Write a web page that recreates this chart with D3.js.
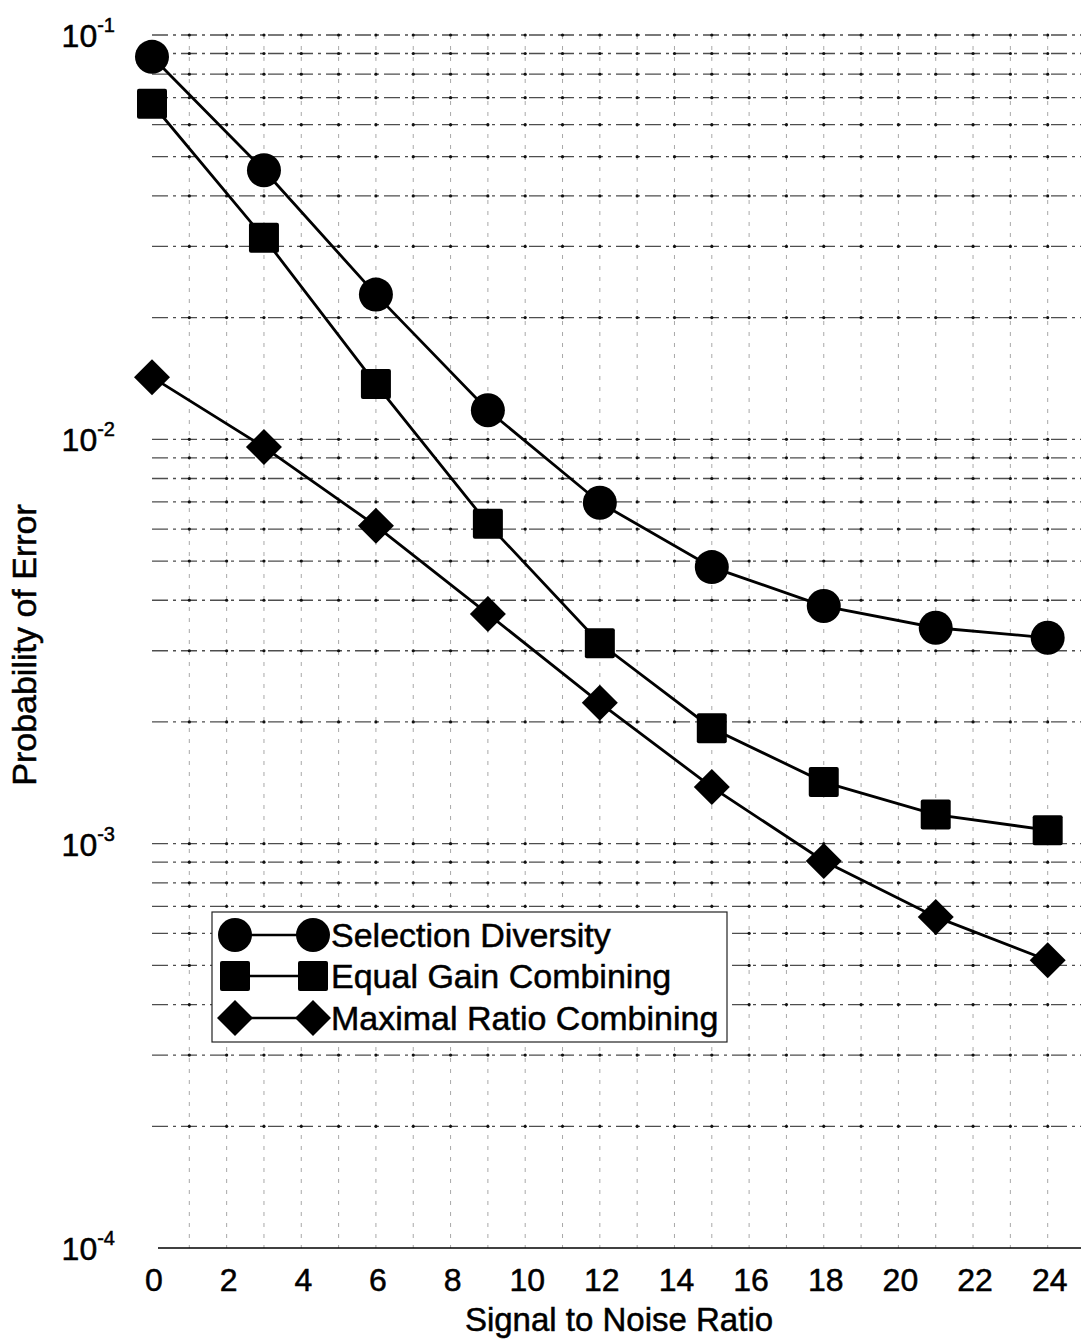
<!DOCTYPE html>
<html>
<head>
<meta charset="utf-8">
<script src="https://cdn.jsdelivr.net/npm/d3@7"></script>
<style>
  html, body { margin: 0; padding: 0; background: #fff; }
  svg { display: block; }
  text { font-family: "Liberation Sans", Arial, Helvetica, sans-serif; fill: #000; stroke: #000; stroke-width: 0.5px; }
</style>
</head>
<body>
<svg id="chart" width="1081" height="1340"></svg>
<script>
// SNR points (dB) shared by all three schemes
const snr = [0, 3, 6, 9, 12, 15, 18, 21, 24];

// Probability of error for each combining scheme
const selectionDiversity = [0.0883, 0.0463, 0.0228, 0.0118, 0.00697, 0.00483, 0.00387, 0.00342, 0.00323];
const equalGain          = [0.0676, 0.0315, 0.0137, 0.00618, 0.00313, 0.00193, 0.00142, 0.00118, 0.00108];
const maximalRatio       = [0.01425, 0.00957, 0.00611, 0.0037, 0.00223, 0.00138, 0.000906, 0.000659, 0.000515];

const seriesNames = ["Selection Diversity", "Equal Gain Combining", "Maximal Ratio Combining"];
const seriesMarkers = ["circle", "square", "diamond"];

const xTicks = [0, 2, 4, 6, 8, 10, 12, 14, 16, 18, 20, 22, 24];
const yDecadeExponents = [-1, -2, -3, -4];

const W = 1081, H = 1340;
const svg = d3.select("#chart");

const x = d3.scaleLinear().domain([0, 25]).range([152, 1085]);
const y = d3.scaleLog().domain([1e-4, 1e-1]).range([1248, 35]);

const plot = svg.append("g");

// Grid: vertical lines at every integer SNR
const vGrid = d3.range(1, 26);
plot.append("g").selectAll("line").data(vGrid).join("line")
  .attr("x1", d => x(d)).attr("x2", d => x(d))
  .attr("y1", y(1e-1)).attr("y2", y(1e-4))
  .attr("stroke", "#555").attr("stroke-width", 1)
  .attr("stroke-dasharray", "4,7").attr("opacity", 0.5);

// Grid: horizontal lines at every log minor step
const hGrid = [];
for (let e = -4; e < -1; e++) {
  for (let m = 1; m <= 9; m++) hGrid.push(m * Math.pow(10, e));
}
hGrid.push(1e-1);
plot.append("g").selectAll("line").data(hGrid.filter(d => d > 1e-4)).join("line")
  .attr("x1", x(0)).attr("x2", W)
  .attr("y1", d => y(d)).attr("y2", d => y(d))
  .attr("stroke", "#222").attr("stroke-width", 1.3)
  .attr("stroke-dasharray", "16,5,3,5").attr("opacity", 0.8);

// Dots where the horizontal grid crosses each integer SNR
const dots = [];
hGrid.filter(d => d > 1e-4).forEach(v => d3.range(1, 26).forEach(s => dots.push([s, v])));
plot.append("g").selectAll("circle").data(dots).join("circle")
  .attr("cx", d => x(d[0])).attr("cy", d => y(d[1])).attr("r", 1.6)
  .attr("fill", "#111");

// Bottom axis line
plot.append("line")
  .attr("x1", x(0) + 6).attr("x2", W)
  .attr("y1", y(1e-4)).attr("y2", y(1e-4))
  .attr("stroke", "#000").attr("stroke-width", 1.6);

// X tick labels
svg.append("g").selectAll("text").data(xTicks).join("text")
  .attr("x", d => x(d) + 2).attr("y", 1291)
  .attr("text-anchor", "middle").attr("font-size", 32)
  .text(d => d);

// Y tick labels (powers of ten)
const yl = svg.append("g").selectAll("text").data(yDecadeExponents).join("text")
  .attr("x", 115).attr("y", d => y(Math.pow(10, d)) + 12)
  .attr("text-anchor", "end").attr("font-size", 32);
yl.append("tspan").text("10");
yl.append("tspan").attr("font-size", 20).attr("dy", -15).text(d => "-" + Math.abs(d));

// Axis titles
svg.append("text").attr("x", 619).attr("y", 1331)
  .attr("text-anchor", "middle").attr("font-size", 33)
  .text("Signal to Noise Ratio");
svg.append("text").attr("transform", "translate(36,645) rotate(-90)")
  .attr("text-anchor", "middle").attr("font-size", 34)
  .text("Probability of Error");

// Marker drawing helper
function drawMarker(g, type, cx, cy) {
  if (type === "circle") {
    g.append("circle").attr("cx", cx).attr("cy", cy).attr("r", 17).attr("fill", "#000");
  } else if (type === "square") {
    g.append("rect").attr("x", cx - 15).attr("y", cy - 15).attr("width", 30).attr("height", 30)
      .attr("rx", 2).attr("fill", "#000");
  } else {
    const r = 18;
    g.append("path").attr("d", `M${cx},${cy - r}L${cx + r},${cy}L${cx},${cy + r}L${cx - r},${cy}Z`)
      .attr("fill", "#000");
  }
}

const allSeries = [selectionDiversity, equalGain, maximalRatio];
const line = d3.line().x((d, i) => x(snr[i])).y(d => y(d));

allSeries.forEach((vals, k) => {
  const g = plot.append("g");
  g.append("path").datum(vals).attr("d", line)
    .attr("fill", "none").attr("stroke", "#000").attr("stroke-width", 2.8);
  vals.forEach((v, i) => drawMarker(g, seriesMarkers[k], x(snr[i]), y(v)));
});

// Legend
const lg = svg.append("g");
lg.append("rect").attr("x", 212).attr("y", 912).attr("width", 515).attr("height", 130)
  .attr("fill", "#fff").attr("stroke", "#222").attr("stroke-width", 1.2);
const rowY = [935, 976, 1018];
seriesNames.forEach((name, k) => {
  const cy = rowY[k];
  lg.append("line").attr("x1", 235).attr("x2", 313).attr("y1", cy).attr("y2", cy)
    .attr("stroke", "#000").attr("stroke-width", 2.4);
  drawMarker(lg, seriesMarkers[k], 235, cy);
  drawMarker(lg, seriesMarkers[k], 313, cy);
  lg.append("text").attr("x", 331).attr("y", cy + 12)
    .attr("font-size", 34).attr("textLength", null).text(name);
});
</script>
</body>
</html>
